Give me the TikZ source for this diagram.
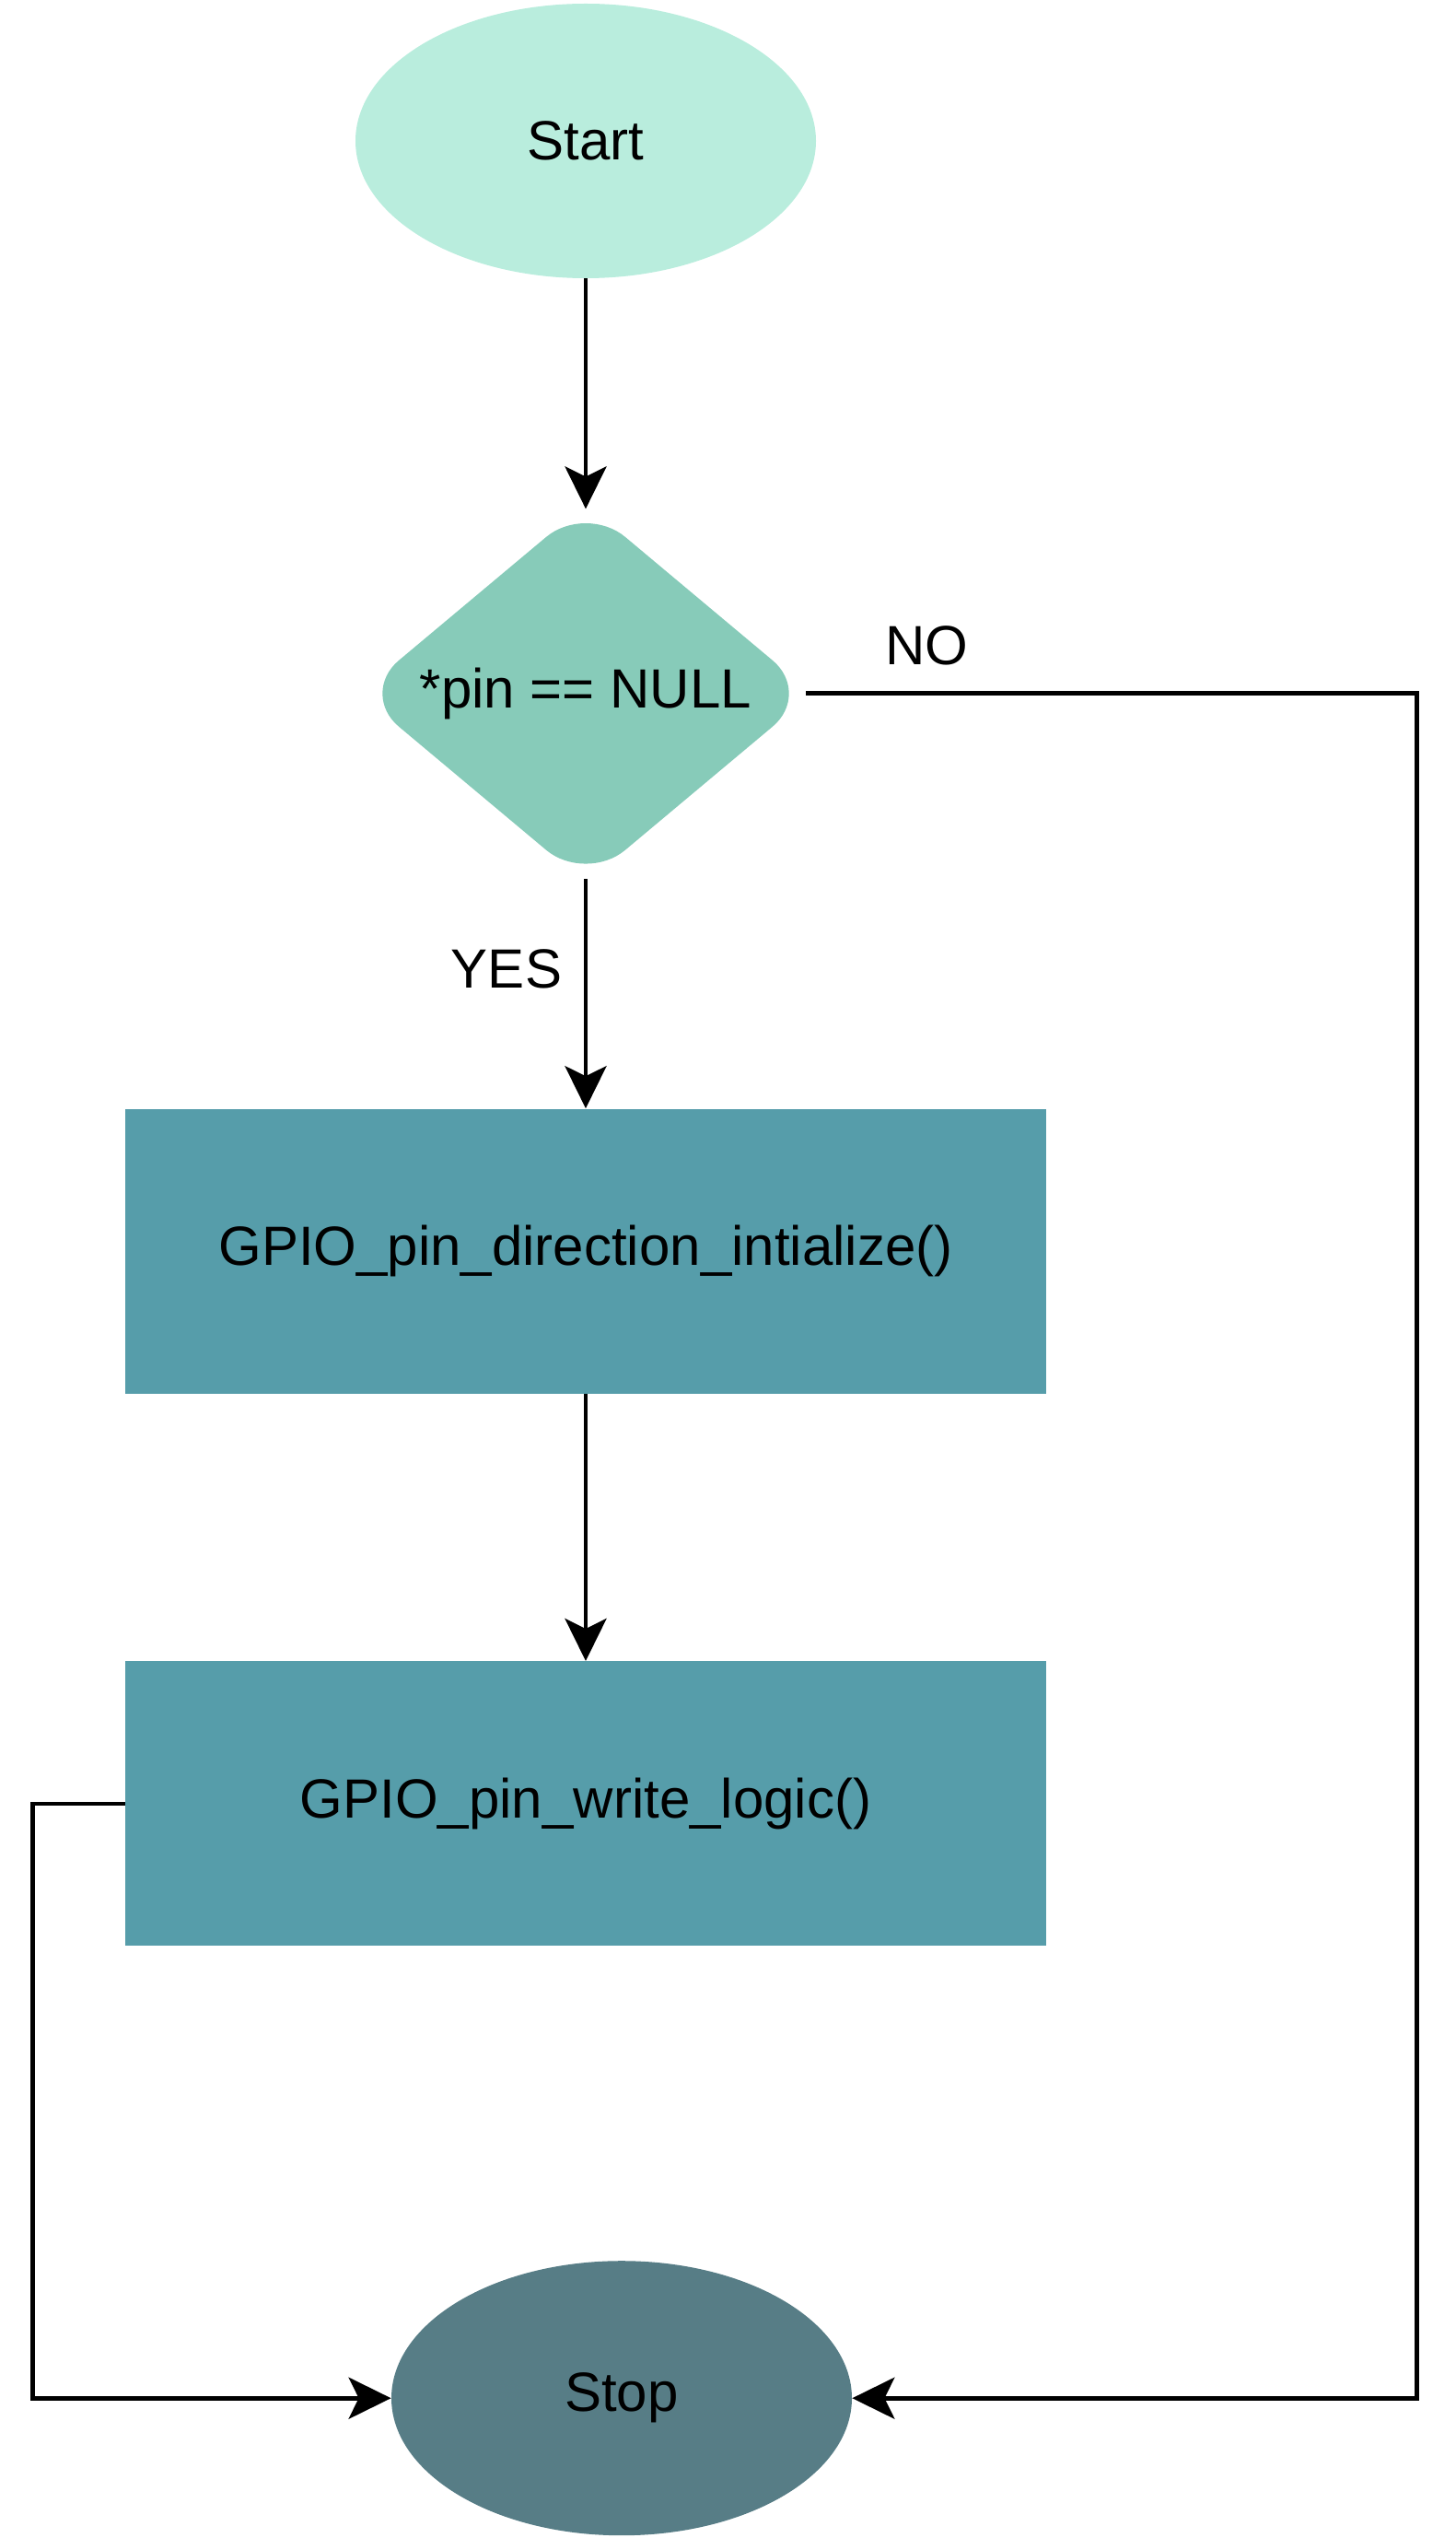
\documentclass[tikz,border=0pt]{standalone}
\usepackage{fontspec}
\setmainfont{Liberation Sans}
\usetikzlibrary{arrows.meta, positioning, shapes.geometric}

\definecolor{startfill}{HTML}{B9EDDD}
\definecolor{checkfill}{HTML}{87CBB9}
\definecolor{procfill}{HTML}{569DAA}
\definecolor{stopfill}{HTML}{577D86}

\begin{document}
\begin{tikzpicture}[
		node distance=122pt,
		every node/.style={font=\fontsize{30}{36}\selectfont},
		terminal/.style={ellipse, minimum width=250pt, minimum height=149pt, inner sep=0pt},
		decision/.style={diamond, fill=checkfill, minimum width=246pt, minimum height=206pt, inner sep=0pt, rounded corners=28pt},
		process/.style={rectangle, fill=procfill, minimum width=500pt, minimum height=154.5pt, inner sep=0pt},
		arrow/.style={-{Stealth[length=23pt, width=22.5pt, inset=5.5pt]}, line width=2.4pt},
	]
	\useasboundingbox (0,0) rectangle (790pt,-1377.5pt);
	
		% Nodes
		\node[terminal, fill=startfill] (start) at (318pt,-76.5pt) {Start};
		\node[decision, below=of start] (check) {\makebox[0pt]{*pin == NULL}};
		\node[process, below=of check] (dirinit) {GPIO\_pin\_direction\_intialize()};
		\node[process, below=145pt of dirinit] (writelogic) {GPIO\_pin\_write\_logic()};
		\node[terminal, fill=stopfill, below=170.5pt of writelogic, xshift=19.5pt] (stop) {Stop};
		
		% Labels
		\node (nolabel) at ([shift={(62pt,26pt)}]check.east) {NO};
		\node (yeslabel) at ([shift={(-43pt,-46.5pt)}]check.south) {YES};
		
		% Arrows
		\draw[arrow, shorten >=-3pt] (start) -- (check);
		\draw[arrow, shorten <=-2.5pt] (check) -- (dirinit);
		\draw[arrow] (dirinit) -- (writelogic);
		\draw[arrow, shorten <=-3.5pt] (check.east) -- ++(328pt,0) |- (stop.east);
		\draw[arrow] (writelogic.west) -- ++(-50pt,0) |- (stop.west);
		
	\end{tikzpicture}
\end{document}
